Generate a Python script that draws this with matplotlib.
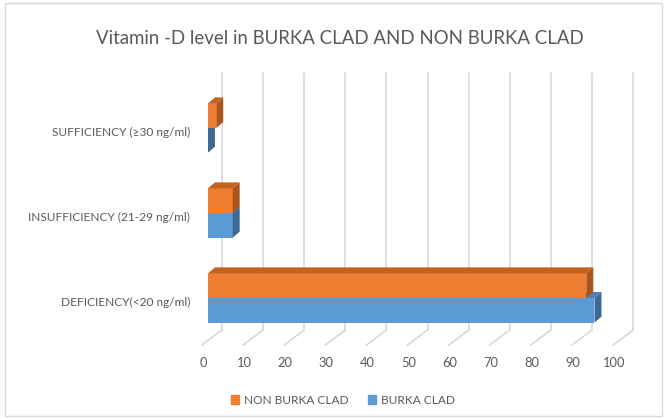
import matplotlib
matplotlib.use("Agg")
import matplotlib.pyplot as plt
from matplotlib.patches import Polygon, Rectangle

plt.rcParams['font.family'] = ['Lato', 'DejaVu Sans']

categories = ['DEFICIENCY(<20 ng/ml)', 'INSUFFICIENCY (21-29 ng/ml)', 'SUFFICIENCY (\u226530 ng/ml)']
burka = [94, 6, 0]
non_burka = [92, 6, 2]
ticks = [0, 10, 20, 30, 40, 50, 60, 70, 80, 90, 100]

orange = '#ED7D31'
orange_top = '#C2621F'
orange_side = '#A9551D'
blue = '#5B9BD5'
blue_top = '#4A80B3'
blue_side = '#3C6A96'
grid_c = '#D9D9D9'
txt_c = '#595959'

fig = plt.figure(figsize=(6.66, 4.19), dpi=100)
ax = fig.add_axes([190 / 666, 39 / 419, 460 / 666, 320 / 419])
ax.set_xlim(-4.38, 107.5)
ax.set_ylim(-0.965, 2.8)
ax.axis('off')

# fake 3d geometry (data units)
bh = 0.29          # bar thickness
ddx, ddy = 1.7, 0.07   # bar depth
wall_dx, floor_dx = 3.4, -1.46
y_back, y_front, y_top = -0.376, -0.553, 2.647

# back wall gridlines + floor lines
for t in ticks:
    ax.plot([t + wall_dx, t + wall_dx], [y_back, y_top], color=grid_c, lw=1.2, zorder=1)
    ax.plot([t + wall_dx, t + floor_dx], [y_back, y_front], color=grid_c, lw=1.2, zorder=1)
    ax.text(t - 1.2, -0.765, str(t), ha='center', va='center', fontsize=9.3, color=txt_c)


def bar3d(y, v, col, top, side, z):
    ax.barh(y, v, height=bh, left=0, align='edge', color=col, zorder=z)
    yt = y + bh
    ax.add_patch(Polygon([(0, yt), (v, yt), (v + ddx, yt + ddy), (ddx, yt + ddy)],
                         closed=True, facecolor=top, edgecolor='none', zorder=z))
    ax.add_patch(Polygon([(v, y), (v, yt), (v + ddx, yt + ddy), (v + ddx, y + ddy)],
                         closed=True, facecolor=side, edgecolor='none', zorder=z))


for i in range(len(categories)):
    bar3d(i - bh, burka[i], blue, blue_top, blue_side, 3 + 2 * i)
    bar3d(i, non_burka[i], orange, orange_top, orange_side, 4 + 2 * i)
    ax.text(-4.38, i - 0.05, categories[i], ha='right', va='center', fontsize=8.6,
            color=txt_c, clip_on=False)

fig.text(0.511, 0.909, 'Vitamin -D level in BURKA CLAD AND NON BURKA CLAD',
         ha='center', va='center', fontsize=13.4, color=txt_c)

h1 = Rectangle((0, 0), 1, 1, color=orange)
h2 = Rectangle((0, 0), 1, 1, color=blue)
fig.legend([h1, h2], ['NON BURKA CLAD', 'BURKA CLAD'], loc='center',
           bbox_to_anchor=(0.515, 0.045), ncol=2, frameon=False, fontsize=8.6,
           labelcolor=txt_c, handlelength=0.7, handleheight=0.7, handletextpad=0.4,
           columnspacing=1.6)

fig.patches.append(Rectangle((5 / 666, 3 / 419), 657 / 666, 413 / 419, transform=fig.transFigure,
                             fill=False, edgecolor='#D9D9D9', lw=1))

fig.savefig('out.png', dpi=100)
